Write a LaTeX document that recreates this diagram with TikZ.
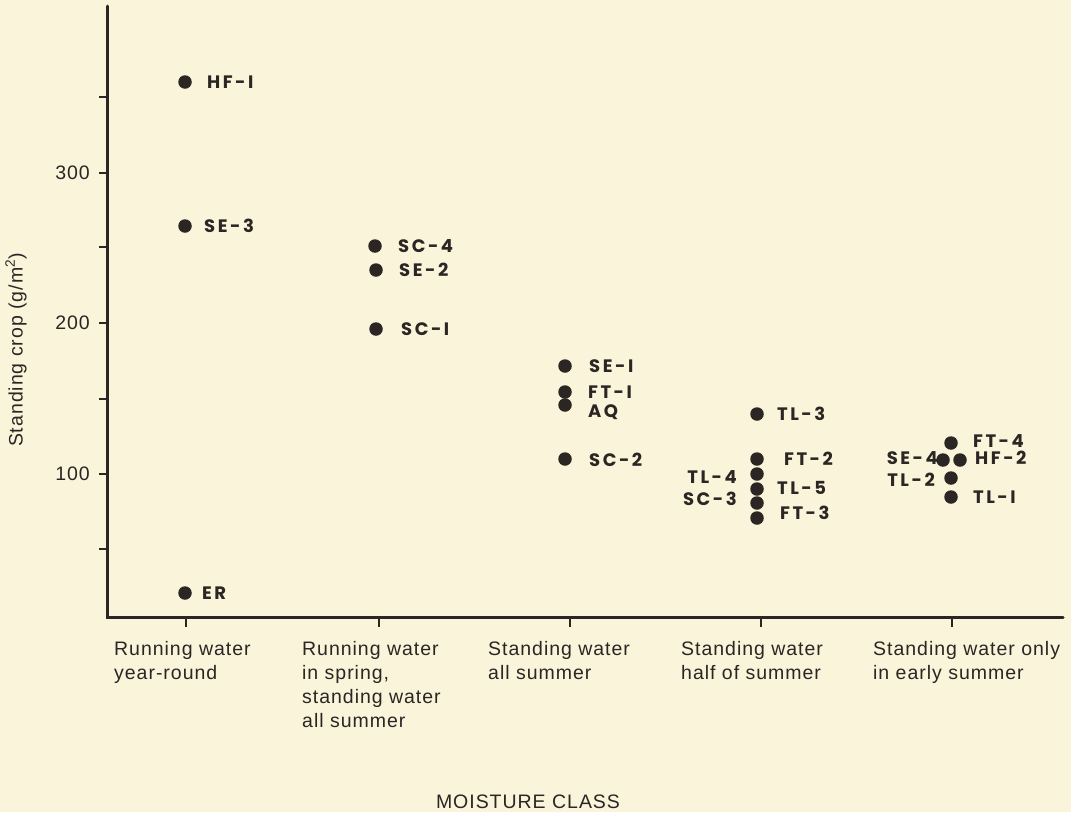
\documentclass[tikz,border=0pt]{standalone}
\usepackage{fontspec}
\setmainfont{Liberation Sans}[LetterSpace=5]
\newfontfamily\ptfont{Poppins}[LetterSpace=14]
\definecolor{bg}{HTML}{F9F4DA}
\definecolor{ink}{HTML}{2B2623}
\begin{document}
\begin{tikzpicture}[x=1pt,y=-1pt,
  axisline/.style={draw=ink,line width=3pt,line cap=round,line join=miter},
  tickmark/.style={draw=ink,line width=2.4pt},
  dot/.style={circle,fill=ink,inner sep=0pt,minimum size=13.5pt},
  ptlab/.style={text=ink,inner sep=0pt,font=\fontsize{18}{20}\ptfont\bfseries},
  txt/.style={text=ink,inner sep=0pt,font=\fontsize{19.5}{24}\selectfont},
  cat/.style={txt,anchor=north west,align=left},
  ylab/.style={txt,anchor=east}]
\fill[bg] (0,0) rectangle (1071,812);
\useasboundingbox (0,0) rectangle (1071,812);
% axes
\coordinate (ytop) at (107,6);
\coordinate (orig) at (107,617);
\coordinate (xend) at (1063,617);
\draw[axisline] (ytop) -- (orig) -- (xend);
% y ticks
\foreach \yy in {97,173,247,323,399,474,549} \draw[tickmark] (99,\yy) -- (107,\yy);
\node[ylab] (y300) at (90,173) {300};
\node[ylab] (y200) at (90,323) {200};
\node[ylab] (y100) at (90,474) {100};
\node[txt,rotate=90] (ytitle) at (16,350) {Standing crop (g/m\textsuperscript{2})};
% x ticks
\foreach \xx in {186,379,570,761,952} \draw[tickmark] (\xx,617) -- (\xx,627);
\node[cat] (c1) at (114,641) {Running water\\year-round};
\node[cat] (c2) at (302,641) {Running water\\in spring,\\standing water\\all summer};
\node[cat] (c3) at (488,641) {Standing water\\all summer};
\node[cat] (c4) at (681,641) {Standing water\\half of summer};
\node[cat] (c5) at (873,641) {Standing water only\\in early summer};
\node[txt] (xtitle) at (528,802) {MOISTURE CLASS};
% data points
\node[dot] (hf1) at (185,82) {};  \node[ptlab,anchor=west] (lhf1) at (207,82) {HF-I};
\node[dot] (se3) at (185,226) {}; \node[ptlab,anchor=west] (lse3) at (204,226) {SE-3};
\node[dot] (er) at (185,593) {};  \node[ptlab,anchor=west] (ler) at (202,593) {ER};
\node[dot] (sc4) at (375,246) {}; \node[ptlab,anchor=west] (lsc4) at (398,246) {SC-4};
\node[dot] (se2) at (376,270) {}; \node[ptlab,anchor=west] (lse2) at (399,270) {SE-2};
\node[dot] (sc1) at (376,329) {}; \node[ptlab,anchor=west] (lsc1) at (401,329) {SC-I};
\node[dot] (se1) at (565,366) {}; \node[ptlab,anchor=west] (lse1) at (589,366) {SE-I};
\node[dot] (ft1) at (565,392) {}; \node[ptlab,anchor=west] (lft1) at (588,392) {FT-I};
\node[dot] (aq) at (565,405) {};  \node[ptlab,anchor=west] (laq) at (588,412) {AQ};
\node[dot] (sc2) at (565,459) {}; \node[ptlab,anchor=west] (lsc2) at (589,460) {SC-2};
\node[dot] (tl3) at (757,414) {}; \node[ptlab,anchor=west] (ltl3) at (777,414) {TL-3};
\node[dot] (ft2) at (757,459) {}; \node[ptlab,anchor=west] (lft2) at (784,459) {FT-2};
\node[dot] (tl4) at (757,474) {}; \node[ptlab,anchor=east] (ltl4) at (737,477) {TL-4};
\node[dot] (tl5) at (757,489) {}; \node[ptlab,anchor=west] (ltl5) at (777,488) {TL-5};
\node[dot] (sc3) at (757,503) {}; \node[ptlab,anchor=east] (lsc3) at (737,499) {SC-3};
\node[dot] (ft3) at (757,518) {}; \node[ptlab,anchor=west] (lft3) at (780,513) {FT-3};
\node[dot] (ft4) at (951,443) {}; \node[ptlab,anchor=west] (lft4) at (973,441) {FT-4};
\node[dot] (se4) at (943,460) {}; \node[ptlab,anchor=east] (lse4) at (938,458) {SE-4};
\node[dot] (hf2) at (960,460) {}; \node[ptlab,anchor=west] (lhf2) at (975,458) {HF-2};
\node[dot] (tl2) at (951,478) {}; \node[ptlab,anchor=east] (ltl2) at (935,480) {TL-2};
\node[dot] (tl1) at (951,497) {}; \node[ptlab,anchor=west] (ltl1) at (973,497) {TL-I};
\end{tikzpicture}
\end{document}
